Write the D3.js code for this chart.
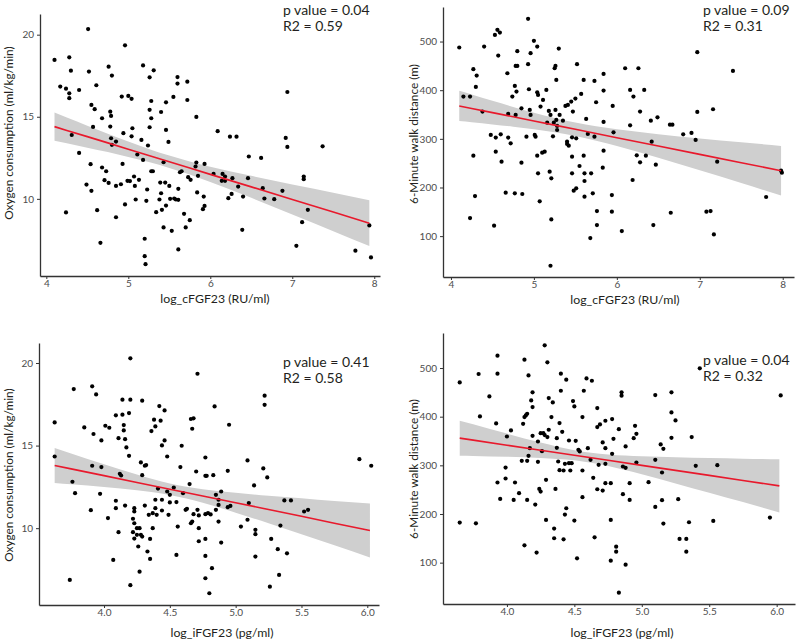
<!DOCTYPE html>
<html><head><meta charset="utf-8">
<script src="https://cdn.jsdelivr.net/npm/d3@7"></script>
<style>body{margin:0;background:#fff}svg{display:block}</style>
</head><body><svg id="c" width="800" height="641"></svg>
<script>
// ---- tick labels ----
const ticksCFGF = [4, 5, 6, 7, 8];
const ticksIFGF = [4.0, 4.5, 5.0, 5.5, 6.0];
const ticksVO2 = [10, 15, 20];
const ticksWalk = [100, 200, 300, 400, 500];

// ---- axis titles & stats ----
const xTitleC = "log_cFGF23 (RU/ml)";
const xTitleI = "log_iFGF23 (pg/ml)";
const yTitleVO2 = "Oxygen consumption (ml/kg/min)";
const yTitleWalk = "6-Minute walk distance (m)";
const stats = [["p value = 0.04", "R2 = 0.59"], ["p value = 0.09", "R2 = 0.31"], ["p value = 0.41", "R2 = 0.58"], ["p value = 0.04", "R2 = 0.32"]];

// ---- panel 1: VO2 vs log_cFGF23 ----
const vo2VsCfgf = [[4.10,18.46],[4.17,16.84],[4.24,16.71],[4.28,18.62],[4.28,16.43],[4.28,16.13],[4.30,17.81],[4.40,16.63],[4.24,9.17],[4.31,13.89],
[4.40,12.80],[4.51,20.34],[4.52,17.75],[4.61,16.92],[4.55,15.72],[4.59,15.46],[4.57,14.38],[4.68,14.91],[4.54,12.11],[4.55,10.49],
[4.49,10.87],[4.62,9.31],[4.66,7.32],[4.68,11.91],[4.73,11.68],[4.71,11.14],[4.76,18.05],[4.80,17.51],[4.78,15.31],[4.79,15.05],
[4.78,14.40],[4.79,13.69],[4.80,13.29],[4.85,13.49],[4.76,10.97],[4.85,10.79],[4.85,8.88],[4.92,16.23],[4.96,19.35],[4.94,14.00],
[4.93,12.13],[4.91,10.89],[4.96,9.66],[4.99,11.10],[5.00,16.27],[5.04,16.09],[5.05,14.30],[5.04,13.81],[5.02,11.08],[5.08,10.79],
[5.07,11.36],[5.09,9.96],[5.11,12.70],[5.13,11.16],[5.16,13.59],[5.18,18.13],[5.18,12.37],[5.20,7.57],[5.20,6.51],[5.21,6.02],
[5.22,9.88],[5.23,10.57],[5.24,13.25],[5.26,17.40],[5.31,17.83],[5.26,15.42],[5.26,14.36],[5.28,14.91],[5.28,15.96],[5.28,11.68],
[5.30,11.68],[5.34,9.19],[5.39,10.99],[5.40,10.34],[5.38,9.96],[5.40,15.29],[5.41,9.33],[5.43,8.26],[5.43,12.23],[5.45,10.99],
[5.46,9.59],[5.46,15.88],[5.46,14.20],[5.49,13.47],[5.50,10.79],[5.51,10.00],[5.53,8.05],[5.55,16.21],[5.56,10.02],[5.58,9.96],
[5.60,17.42],[5.60,17.02],[5.61,9.94],[5.61,10.61],[5.61,6.92],[5.63,11.62],[5.65,11.68],[5.68,9.09],[5.70,8.26],[5.72,17.14],
[5.72,16.02],[5.73,11.32],[5.75,8.70],[5.76,11.16],[5.82,11.97],[5.83,12.21],[5.83,14.99],[5.84,10.39],[5.85,11.40],
[5.93,12.13],[5.92,10.14],[5.93,9.57],[5.91,9.37],[6.09,14.12],[6.04,11.52],[6.15,11.52],[6.18,11.36],[6.14,11.10],[6.18,11.10],
[6.24,13.79],[6.32,13.79],[6.27,11.26],[6.22,10.04],[6.26,10.30],[6.34,10.75],[6.40,10.14],[6.39,8.11],[6.46,11.26],[6.47,12.58],
[6.62,12.49],[6.64,10.65],[6.66,10.02],[6.78,9.98],[6.88,10.49],[6.94,16.51],[6.92,13.71],[6.94,13.16],[7.14,11.36],[7.14,11.20],
[7.19,9.33],[7.12,8.58],[7.05,7.14],[7.37,13.20],[7.77,6.84],[7.96,6.43],[7.94,8.38]];
// fit: [x, fitted, lower, upper]
const fitVo2Cfgf = [[4.10,14.40,13.54,15.26],[4.25,14.17,13.38,14.96],[4.50,13.79,13.12,14.46],[4.75,13.41,12.85,13.97],[5.00,13.02,12.55,13.49],
[5.25,12.64,12.24,13.04],[5.50,12.26,11.88,12.64],[5.75,11.88,11.48,12.28],[6.00,11.49,11.02,11.96],[6.50,10.73,10.06,11.40],
[7.00,9.96,9.05,10.87],[7.50,9.20,8.03,10.37],[7.94,8.52,7.12,9.92]];

// ---- panel 2: 6MWD vs log_cFGF23 ----
const walkVsCfgf = [[4.10,487.7],[4.15,386.8],[4.23,386.8],[4.27,443.1],[4.31,430.0],[4.30,406.7],[4.27,265.4],[4.29,182.4],[4.23,137.2],[4.40,489.7],
[4.38,356.0],[4.48,308.0],[4.52,121.4],[4.53,513.7],[4.56,524.0],[4.59,518.5],[4.57,471.2],[4.54,302.5],[4.54,273.7],[4.60,309.3],
[4.61,253.1],[4.68,434.8],[4.69,302.5],[4.69,351.2],[4.72,290.8],[4.74,386.8],[4.66,189.3],[4.77,408.8],[4.79,397.1],[4.78,449.9],
[4.80,449.9],[4.80,480.1],[4.77,187.9],[4.78,349.1],[4.85,251.0],[4.86,186.6],[4.85,362.8],[4.93,546.6],[4.93,453.4],[4.94,401.9],
[4.91,304.5],[4.95,359.4],[4.96,349.1],[4.96,476.0],[5.00,501.4],[5.01,308.0],[5.02,304.5],[5.04,489.7],[5.04,395.7],[5.05,390.2],
[5.04,265.4],[5.05,229.1],[5.07,171.5],[5.08,366.3],[5.11,380.0],[5.10,271.6],[5.13,273.7],[5.15,400.5],[5.16,333.3],[5.18,357.3],
[5.19,232.5],[5.20,349.1],[5.21,218.8],[5.21,134.4],[5.20,39.1],[5.23,305.2],[5.24,333.3],[5.25,445.1],[5.26,449.9],[5.27,421.1],
[5.26,359.4],[5.27,338.8],[5.28,326.5],[5.28,318.2],[5.30,485.6],[5.31,349.1],[5.35,337.4],[5.38,367.6],[5.40,294.2],[5.40,289.4],
[5.42,286.0],[5.41,369.7],[5.45,376.5],[5.46,303.2],[5.46,263.4],[5.46,229.1],[5.47,356.0],[5.48,193.4],[5.50,382.7],[5.51,301.1],
[5.51,198.2],[5.52,453.4],[5.55,244.2],[5.57,392.3],[5.60,421.1],[5.60,265.4],[5.61,213.3],[5.61,229.1],[5.61,181.1],[5.63,340.9],
[5.65,310.0],[5.68,96.0],[5.69,229.1],[5.71,187.9],[5.73,419.1],[5.73,304.5],[5.75,375.2],[5.76,151.6],[5.76,122.8],
[5.84,433.5],[5.84,399.2],[5.84,334.7],[5.84,275.7],[5.83,240.7],[5.94,184.5],[5.94,150.2],[5.95,367.6],[5.96,313.4],[6.06,110.4],
[6.10,445.1],[6.16,400.5],[6.16,327.8],[6.20,386.8],[6.19,215.4],[6.24,266.1],[6.26,445.1],[6.28,356.0],[6.28,251.7],[6.33,400.5],
[6.35,265.4],[6.41,337.4],[6.42,294.2],[6.47,246.9],[6.49,344.3],[6.44,122.8],[6.64,329.2],[6.67,329.2],[6.65,148.1],[6.80,309.3],
[6.90,312.1],[6.95,297.7],[6.97,478.1],[6.97,355.3],[7.08,150.2],[7.13,151.6],[7.16,360.8],[7.17,103.6],[7.21,253.1],[7.40,439.6],
[7.80,180.4],[7.98,234.6],[7.99,230.5]];
const fitWalkCfgf = [[4.10,367.6,336.6,398.6],[4.25,362.5,334.1,390.9],[4.50,353.9,329.7,378.1],[4.75,345.3,324.9,365.7],[5.00,336.7,319.6,353.8],
[5.25,328.2,313.4,343.0],[5.50,319.6,305.6,333.6],[5.75,311.0,296.2,325.8],[6.00,302.4,285.3,319.5],[6.50,285.3,261.1,309.5],
[7.00,268.1,235.3,300.9],[7.50,251.0,209.1,292.9],[7.98,234.5,183.5,285.5]];

// ---- panel 3: VO2 vs log_iFGF23 ----
const vo2VsIfgf = [[3.625,16.40],[3.625,14.34],[3.77,18.42],[3.76,12.81],[3.78,12.12],[3.74,6.87],[3.85,16.10],[3.91,18.59],[3.94,18.10],[3.92,15.70],
[3.91,13.78],[3.90,11.09],[3.98,13.70],[3.97,12.08],[3.98,15.31],[4.01,16.20],[4.04,16.08],[4.03,10.61],[4.07,8.08],[4.09,16.83],
[4.09,11.66],[4.09,11.21],[4.11,15.45],[4.11,9.76],[4.12,13.29],[4.13,13.19],[4.14,17.78],[4.14,16.87],[4.15,16.24],[4.15,15.92],
[4.16,15.39],[4.17,14.89],[4.19,14.38],[4.19,16.97],[4.20,17.78],[4.20,20.28],[4.20,6.55],[4.16,11.37],[4.22,10.57],[4.23,11.01],
[4.23,11.21],[4.23,10.30],[4.22,9.76],[4.23,9.37],[4.25,10.00],[4.25,9.60],[4.26,8.89],[4.27,7.37],[4.27,10.00],[4.28,9.60],
[4.29,9.49],[4.29,17.72],[4.28,13.98],[4.29,13.21],[4.31,13.78],[4.32,13.82],[4.31,11.37],[4.33,8.59],[4.34,10.81],[4.35,8.14],
[4.35,9.35],[4.37,10.91],[4.36,15.88],[4.37,10.00],[4.38,16.57],[4.39,16.16],[4.39,11.72],[4.39,11.21],[4.40,10.81],[4.41,12.40],
[4.42,17.39],[4.43,16.51],[4.44,15.01],[4.44,11.72],[4.44,11.07],[4.46,17.13],[4.46,15.31],[4.48,14.34],[4.48,12.22],[4.49,10.81],
[4.50,11.56],[4.50,12.02],[4.53,12.46],[4.55,11.58],[4.55,8.38],[4.56,10.10],[4.58,13.70],[4.59,14.99],[4.60,12.12],[4.62,11.11],
[4.63,11.17],[4.65,12.67],[4.66,16.61],[4.67,16.02],[4.68,16.65],[4.66,10.30],[4.67,10.40],[4.68,10.85],[4.71,19.35],[4.70,13.43],
[4.71,11.11],[4.72,10.77],[4.72,10.00],[4.72,9.21],
[4.77,14.28],[4.77,13.17],[4.78,13.17],[4.77,10.85],[4.79,10.91],[4.81,10.83],[4.77,9.35],[4.77,8.32],[4.77,6.97],[4.80,6.06],
[4.82,7.58],[4.83,13.21],[4.84,17.37],[4.85,12.02],[4.85,11.11],[4.87,11.72],[4.87,10.40],[4.87,11.41],[4.89,12.22],[4.89,9.13],
[4.94,13.47],[4.94,11.27],[4.96,11.35],[4.95,16.26],[5.04,10.10],[5.09,14.10],[5.10,11.52],[5.09,10.51],[5.14,12.59],[5.15,9.90],
[5.15,9.64],[5.15,8.28],[5.21,13.62],[5.22,18.02],[5.22,17.47],[5.24,13.07],[5.27,9.35],[5.26,6.46],[5.32,8.73],[5.33,7.17],
[5.34,10.16],[5.37,11.68],[5.42,11.68],[5.39,8.48],[5.52,11.01],[5.55,11.11],[5.94,14.18],[6.03,13.78]];
const fitVo2Ifgf = [[3.625,13.80,12.74,14.86],[3.75,13.59,12.66,14.52],[4.00,13.18,12.49,13.87],[4.25,12.77,12.29,13.25],[4.50,12.36,12.01,12.71],
[4.75,11.95,11.54,12.36],[5.00,11.54,10.94,12.14],[5.25,11.13,10.30,11.96],[5.50,10.72,9.64,11.81],[5.75,10.30,8.96,11.64],[6.02,9.86,8.23,11.49]];

// ---- panel 4: 6MWD vs log_iFGF23 ----
const walkVsIfgf = [[3.65,470.5],[3.65,182.3],[3.77,180.9],[3.79,487.7],[3.80,400.5],[3.87,441.7],[3.93,525.4],[3.93,488.3],[3.92,386.1],[3.93,264.7],
[3.95,231.0],[3.99,295.5],[3.99,272.9],[4.00,359.3],[4.03,371.7],[4.06,264.7],[4.05,229.0],[4.09,242.7],[4.11,309.3],[4.12,385.4],
[4.13,399.1],[4.14,402.6],[4.15,406.0],[4.13,517.2],[4.13,135.7],[4.15,229.0],[4.15,309.3],[4.16,484.9],[4.16,319.6],[4.18,433.4],
[4.19,450.0],[4.19,419.7],[4.19,360.7],[4.17,335.3],[4.21,219.4],[4.22,120.6],[4.23,349.0],[4.23,307.2],[4.24,251.6],[4.25,246.1],
[4.25,366.2],[4.26,329.2],[4.27,366.2],[4.28,362.1],[4.28,546.7],[4.29,187.8],[4.29,270.2],[4.30,511.7],[4.31,438.3],[4.31,373.1],
[4.30,358.0],[4.33,399.1],[4.34,429.3],[4.35,150.1],[4.35,170.0],[4.36,251.6],[4.37,355.9],[4.37,336.0],[4.38,307.9],[4.39,290.0],
[4.40,488.3],[4.40,453.3],[4.39,386.8],[4.41,368.9],[4.42,289.4],[4.42,148.0],[4.43,198.8],[4.44,211.8],[4.44,476.0],[4.43,303.1],
[4.46,304.5],[4.47,289.4],[4.46,351.1],[4.48,304.5],[4.49,432.1],[4.50,421.1],[4.50,186.4],[4.51,350.4],[4.52,108.9],[4.53,331.9],
[4.54,328.5],[4.56,399.1],[4.56,289.4],[4.56,234.5],[4.57,453.3],[4.59,478.7],[4.60,335.3],[4.62,311.3],[4.63,473.9],[4.64,274.3],
[4.65,152.1],[4.67,250.9],[4.67,378.6],[4.67,417.7],[4.68,301.0],[4.69,384.0],
[4.71,347.0],[4.73,335.3],[4.73,391.6],[4.73,303.1],[4.71,248.2],[4.73,263.3],[4.77,263.3],[4.77,187.8],[4.78,395.0],[4.78,323.6],
[4.79,354.5],[4.77,104.1],[4.81,132.9],[4.81,122.6],[4.83,374.4],[4.83,38.2],[4.85,450.0],[4.85,443.1],[4.86,297.6],[4.86,240.7],
[4.88,338.8],[4.88,294.9],[4.88,95.9],[4.91,263.3],[4.91,229.0],[4.94,355.9],[4.95,381.3],[4.96,364.8],[4.96,305.8],[5.05,265.4],
[5.10,444.4],[5.10,311.3],[5.10,214.6],[5.14,342.9],[5.16,334.0],[5.15,285.3],[5.15,228.3],[5.16,180.3],[5.22,450.0],[5.22,408.7],
[5.22,356.6],[5.25,392.3],[5.27,230.4],[5.28,148.7],[5.33,148.7],[5.33,122.6],[5.35,183.0],[5.37,358.0],[5.40,298.9],[5.43,499.3],
[5.56,300.3],[5.53,185.8],[5.95,192.6],[6.03,443.7]];
const fitWalkIfgf = [[3.65,355.9,319.9,391.9],[3.75,351.8,319.4,384.2],[4.00,341.4,317.6,365.2],[4.25,331.1,315.3,346.9],[4.50,320.7,310.3,331.1],
[4.75,310.4,298.6,322.2],[5.00,300.0,281.5,318.5],[5.25,289.7,262.8,316.6],[5.50,279.3,243.7,314.9],[5.75,269.0,224.4,313.6],[6.02,257.8,203.3,312.3]];

// ---- layout ----
const panels = [
  {pts: vo2VsCfgf, fit: fitVo2Cfgf, xT: ticksCFGF, yT: ticksVO2, xFmt: d3.format("d"), xTitle: xTitleC, yTitle: yTitleVO2, st: stats[0],
   L: 40, R: 380, T: 14, B: 276, xd: [3.923, 8.07], yd: [5.3, 21.26], xtx: 215, xty: 303, ytx: 13, yty: 133, sx: 283, sy: 15},
  {pts: walkVsCfgf, fit: fitWalkCfgf, xT: ticksCFGF, yT: ticksWalk, xFmt: d3.format("d"), xTitle: xTitleC, yTitle: yTitleWalk, st: stats[1],
   L: 443, R: 794, T: 7, B: 277, xd: [3.904, 8.136], yd: [16, 571], xtx: 625, xty: 304, ytx: 418, yty: 134, sx: 703, sy: 15},
  {pts: vo2VsIfgf, fit: fitVo2Ifgf, xT: ticksIFGF, yT: ticksVO2, xFmt: d3.format(".1f"), xTitle: xTitleI, yTitle: yTitleVO2, st: stats[2],
   L: 39, R: 379, T: 343, B: 605, xd: [3.506, 6.089], yd: [5.35, 21.21], xtx: 222, xty: 637, ytx: 13, yty: 475, sx: 283, sy: 367},
  {pts: walkVsIfgf, fit: fitWalkIfgf, xT: ticksIFGF, yT: ticksWalk, xFmt: d3.format(".1f"), xTitle: xTitleI, yTitle: yTitleWalk, st: stats[3],
   L: 443, R: 795, T: 333, B: 604, xd: [3.526, 6.136], yd: [15, 572], xtx: 622, xty: 637, ytx: 418, yty: 469, sx: 703, sy: 365}
];

const svg = d3.select("#c");
const FONT = "Lato, 'Open Sans', sans-serif";

panels.forEach(p => {
  const x = d3.scaleLinear().domain(p.xd).range([p.L, p.R]);
  const y = d3.scaleLinear().domain(p.yd).range([p.B, p.T]);
  const g = svg.append("g");

  // confidence band
  g.append("path").datum(p.fit)
    .attr("d", d3.area().curve(d3.curveMonotoneX).x(d => x(d[0])).y0(d => y(d[2])).y1(d => y(d[3])))
    .attr("fill", "#cfcfcf");

  // points
  g.selectAll("circle").data(p.pts).join("circle")
    .attr("cx", d => x(d[0])).attr("cy", d => y(d[1])).attr("r", 2.1).attr("fill", "#000");

  // fit line
  g.append("path").datum(p.fit)
    .attr("d", d3.line().x(d => x(d[0])).y(d => y(d[1])))
    .attr("fill", "none").attr("stroke", "#e8192c").attr("stroke-width", 1.6);

  // axes
  const ax = g.append("g").attr("transform", `translate(0,${p.B})`)
    .call(d3.axisBottom(x).tickValues(p.xT).tickFormat(p.xFmt).tickSize(3).tickPadding(1).tickSizeOuter(0));
  const ay = g.append("g").attr("transform", `translate(${p.L},0)`)
    .call(d3.axisLeft(y).tickValues(p.yT).tickSize(3).tickPadding(3).tickSizeOuter(0));
  [ax, ay].forEach(a => {
    a.select(".domain").attr("stroke", "#333").attr("stroke-width", 1.3);
    a.selectAll(".tick line").attr("stroke", "#333");
    a.selectAll(".tick text").attr("fill", "#4d4d4d").style("font-family", FONT).style("font-size", "10px");
  });

  // titles
  g.append("text").attr("x", p.xtx).attr("y", p.xty).attr("text-anchor", "middle")
    .style("font-family", FONT).style("font-size", "12.3px").attr("fill", "#231f20").text(p.xTitle);
  g.append("text").attr("transform", `translate(${p.ytx},${p.yty}) rotate(-90)`).attr("text-anchor", "middle")
    .style("font-family", FONT).style("font-size", "11.8px").attr("fill", "#231f20").text(p.yTitle);

  // stats
  p.st.forEach((s, i) => {
    g.append("text").attr("x", p.sx).attr("y", p.sy + i * 16)
      .style("font-family", FONT).style("font-size", "14px").attr("fill", "#231f20").text(s);
  });
});
</script></body></html>
